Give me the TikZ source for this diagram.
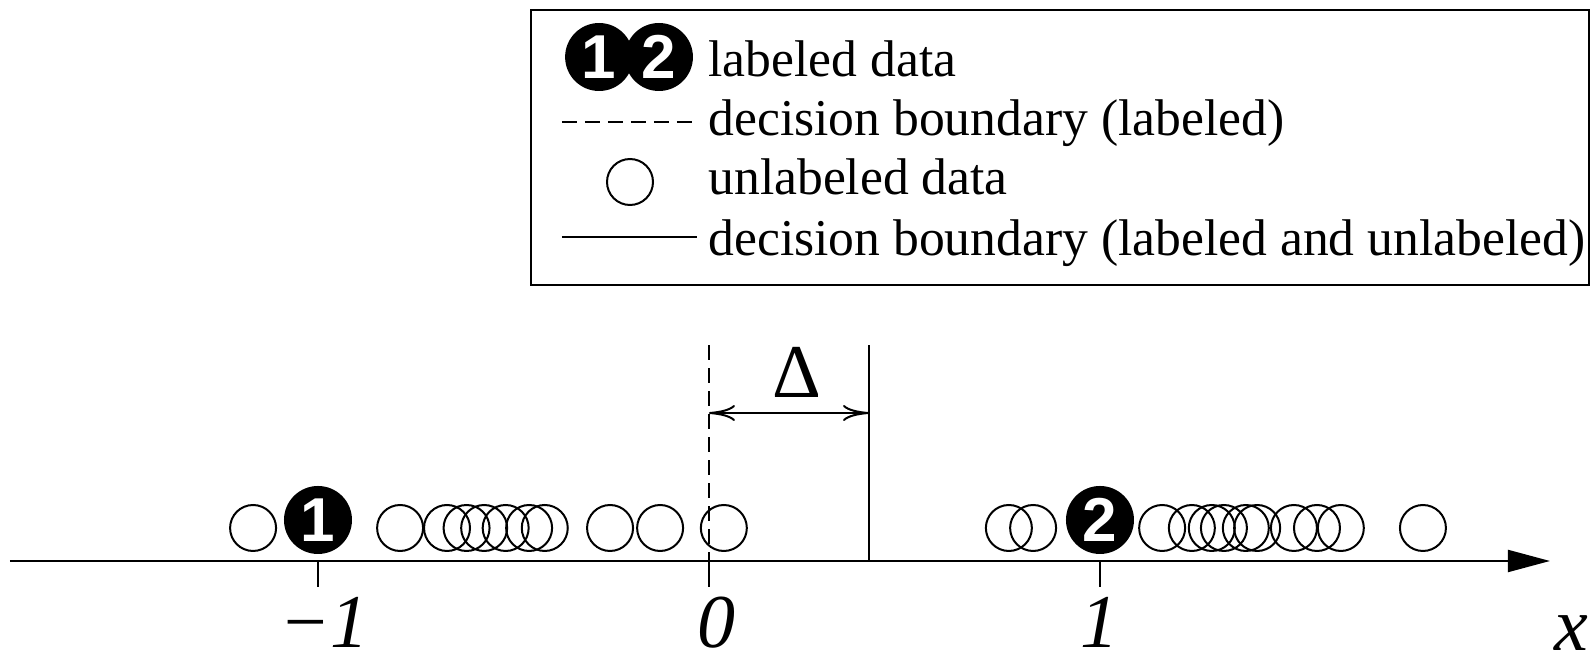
\documentclass[tikz,border=0pt]{standalone}
\usepackage{fontspec}
\setmainfont{Liberation Serif}
\newfontfamily\digitfont{Liberation Sans}
\usetikzlibrary{arrows.meta}

\begin{document}
\begin{tikzpicture}[x=195.5pt, y=195.5pt, line width=1pt, >={To[length=13pt,width=8pt]}]
	\tikzset{dash style/.style={dash pattern=on 7.5pt off 4pt},
		lab pt/.style={circle, fill=black, inner sep=0pt, outer sep=0pt, minimum size=34pt, text=white, font=\digitfont\bfseries\fontsize{31}{31}\selectfont},
		legend text/.style={anchor=base west, inner sep=0pt, font=\fontsize{25.8}{30}\selectfont},
		axis label/.style={anchor=base, inner sep=0pt, font=\fontsize{38}{40}\selectfont\itshape}}
	\useasboundingbox (-1.8133,-0.2532) rectangle (2.2558,1.4348);
	% legend
	\draw (-0.4552,0.7059) rectangle (2.2506,1.4092);
	\node[lab pt] (leg1) at (-0.281,1.289) {1};
	\node[lab pt] (leg2) at (-0.128,1.289) {2};
	\node[legend text] (legA) at (-0.004,1.2379) {labeled data};
	\draw[dash style] (-0.376,1.1228) -- (-0.0335,1.1228);
	\node[legend text] (legB) at (-0.004,1.087) {decision boundary (labeled)};
	\draw (-0.202,0.9693) circle (0.0588);
	\node[legend text] (legC) at (-0.004,0.9361) {unlabeled data};
	\draw (-0.376,0.8286) -- (-0.0309,0.8286);
	\node[legend text] (legD) at (-0.004,0.7826) {decision boundary (labeled and unlabeled)};
	% axis
	\draw[-{Triangle[length=21pt,width=11pt]}] (-1.7877,0) -- (2.1509,0);
	\foreach \t in {-1,0,1} \draw (\t,0) -- (\t,-0.0665);
	\node[axis label] (lm1) at (-0.985,-0.222) {\char"2212 1};
	\node[axis label] (l0) at (0.02,-0.222) {0};
	\node[axis label] (l1) at (1.0,-0.222) {1};
	\node[axis label] (lx) at (2.205,-0.228) {x};
	% boundaries
	\draw[dash style] (0,0.5524) -- (0,0);
	\draw (0.4092,0.5524) -- (0.4092,0);
	\draw[<->] (0,0.3785) -- (0.4092,0.3785);
	\node[anchor=base, inner sep=0pt, font=\fontsize{38}{40}\selectfont] (delta) at (0.225,0.4169) {Δ};
	% data
	\foreach \p in {-1.166,-0.79,-0.67,-0.62,-0.575,-0.52,-0.46,-0.42,-0.253,-0.125,0.038,
		0.767,0.829,1.159,1.235,1.286,1.317,1.373,1.402,1.496,1.555,1.616,1.826}
		\draw (\p,0.0844) circle (0.0588);
	\node[lab pt] (p1) at (-1,0.1049) {1};
	\node[lab pt] (p2) at (1,0.1049) {2};
\end{tikzpicture}
\end{document}
